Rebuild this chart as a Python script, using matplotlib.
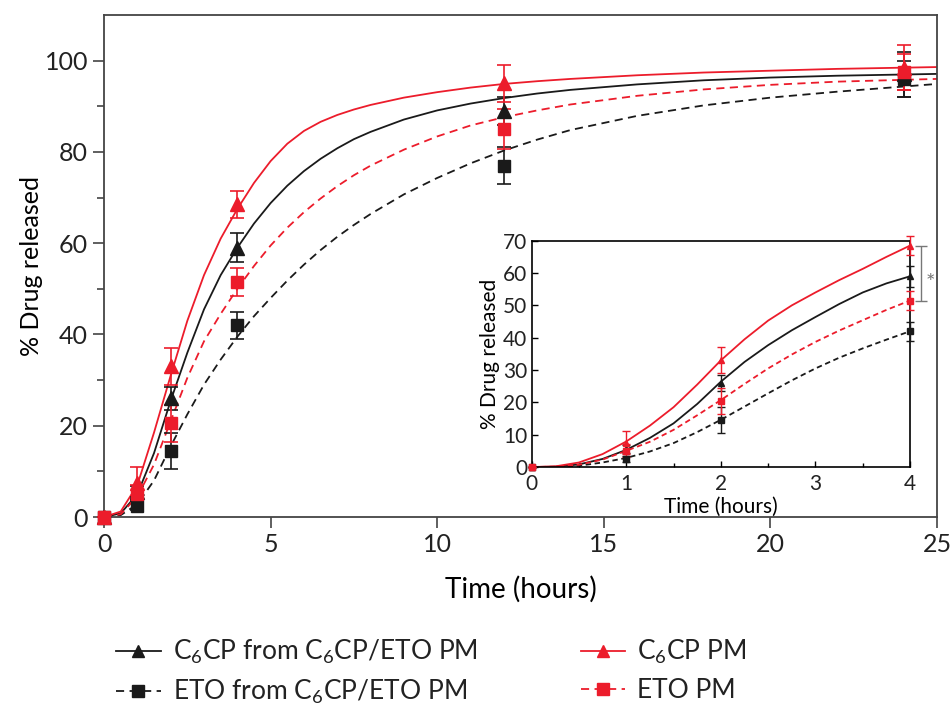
import matplotlib
matplotlib.use('Agg')
import matplotlib.pyplot as plt
from matplotlib.lines import Line2D

plt.rcParams['font.family'] = ['Lato', 'DejaVu Sans']
plt.rcParams['mathtext.fontset'] = 'custom'
plt.rcParams['mathtext.rm'] = 'Lato'
plt.rcParams['text.color'] = '#222222'

RED = '#ec1c2b'
BLK = '#1a1a1a'

# measured points
t_pts = [0, 1, 2, 4, 12, 24]
c6cp_mix = [0, 5.5, 26, 59, 89, 97]
c6cp_mix_err = [0, 1.2, 2.5, 3.2, 3, 5]
eto_mix = [0, 2.5, 14.5, 42, 77, 96]
eto_mix_err = [0, 1, 4, 3, 4, 4]
c6cp_pm = [0, 7.5, 33, 68.5, 95, 98.5]
c6cp_pm_err = [0, 3.5, 4, 3, 4, 5]
eto_pm = [0, 5, 20.5, 51.5, 85, 97.5]
eto_pm_err = [0, 2, 4, 3, 4.3, 4]

# fitted curves
t_fit = [0, 0.5, 1, 1.5, 2, 2.5, 3, 3.5, 4, 4.5, 5, 5.5, 6, 6.5, 7, 7.5, 8,
         9, 10, 11, 12, 13, 14, 16, 18, 20, 22, 25]
fit_c6cp_mix = [0, 0.8, 5, 14, 25.5, 36, 45.5, 53, 59, 64.3, 68.8, 72.6, 75.8, 78.5,
                80.8, 82.8, 84.4, 87.1, 89.1, 90.6, 91.8, 92.8, 93.6, 94.8, 95.7, 96.3, 96.7, 97.1]
fit_eto_mix = [0, 0.4, 2.8, 8, 15.5, 22.5, 29, 34.5, 39.5, 44, 48, 51.8, 55.3, 58.5,
               61.4, 64, 66.4, 70.7, 74.3, 77.5, 80.3, 82.7, 84.8, 87.9, 90.2, 91.9, 93.2, 94.9]
fit_c6cp_pm = [0, 1.2, 7, 18.5, 31, 43, 53, 61, 67.5, 73.2, 78.0, 81.8, 84.6, 86.6,
               88.1, 89.3, 90.3, 91.9, 93.1, 94.1, 94.9, 95.5, 96.0, 96.8, 97.4, 97.8, 98.2, 98.6]
fit_eto_pm = [0, 0.6, 4.5, 11.5, 21, 30.5, 38.5, 44.5, 50, 55, 59.5, 63.4, 66.8, 69.8,
              72.5, 74.9, 77, 80.5, 83.4, 85.8, 87.6, 89.1, 90.4, 92.3, 93.7, 94.7, 95.4, 96]

# fitted curves (first 4 h)
t_in = [0, 0.25, 0.5, 0.75, 1, 1.25, 1.5, 1.75, 2, 2.25, 2.5, 2.75, 3, 3.25, 3.5, 3.75, 4]
in_c6cp_mix = [0, 0.1, 0.8, 2.5, 5.3, 9, 13.5, 19.5, 26.4, 32.5, 37.7, 42.3, 46.4, 50.4, 54, 56.8, 59]
in_eto_mix = [0, 0.05, 0.4, 1.4, 2.8, 4.8, 7.4, 10.8, 14.6, 18.7, 22.8, 26.8, 30.5, 33.8, 36.7, 39.4, 42]
in_c6cp_pm = [0, 0.2, 1.4, 4, 7.9, 12.8, 18.5, 25.5, 33, 39.5, 45.3, 50, 54, 57.8, 61.3, 65, 68.5]
in_eto_pm = [0, 0.1, 0.7, 2.3, 5, 7.8, 11.5, 16, 20.7, 25.7, 30.5, 34.8, 38.7, 42.2, 45.4, 48.6, 51.5]

labels = ['C$\\mathregular{_6}$CP from C$\\mathregular{_6}$CP/ETO PM',
          'ETO from C$\\mathregular{_6}$CP/ETO PM',
          'C$\\mathregular{_6}$CP PM',
          'ETO PM']

DASH = (0, (4.5, 3))

series = [
    (c6cp_mix, c6cp_mix_err, fit_c6cp_mix, in_c6cp_mix, BLK, '^', '-'),
    (eto_mix, eto_mix_err, fit_eto_mix, in_eto_mix, BLK, 's', DASH),
    (eto_pm, eto_pm_err, fit_eto_pm, in_eto_pm, RED, 's', DASH),
    (c6cp_pm, c6cp_pm_err, fit_c6cp_pm, in_c6cp_pm, RED, '^', '-'),
]

fig = plt.figure(figsize=(9.51, 7.09), dpi=100)
ax = fig.add_axes([0.1094, 0.2708, 0.8759, 0.708])

for y, e, fy, iy, c, m, ls in series:
    ax.plot(t_fit, fy, color=c, lw=1.3, ls=ls, zorder=2)
    ax.errorbar(t_pts, y, yerr=e, fmt=m, color=c, ms=10 if m == '^' else 9,
                capsize=5, elinewidth=1.2, capthick=1.2, clip_on=False, zorder=3)

ax.set_xlim(0, 25)
ax.set_ylim(0, 110)
ax.set_xticks([0, 5, 10, 15, 20, 25])
ax.set_yticks([0, 20, 40, 60, 80, 100])
ax.set_yticks([10, 30, 50, 70, 90], minor=True)
ax.tick_params(labelsize=18, length=8, width=1.2, color='#444444', labelcolor='#222222')
ax.tick_params(which='minor', length=5, width=1.2, color='#444444')
ax.set_xlabel('Time (hours)', fontsize=20, labelpad=14)
ax.set_ylabel('% Drug released', fontsize=18, labelpad=1)
for s in ax.spines.values():
    s.set_linewidth(1.3)
    s.set_color('#444444')

# inset
ins = fig.add_axes([0.559, 0.3413, 0.398, 0.3192])
for y, e, fy, iy, c, m, ls in series:
    ins.plot(t_in, iy, color=c, lw=1.3, ls=ls if ls == '-' else (0, (3, 2)), zorder=2)
    ins.errorbar(t_pts[:4], y[:4], yerr=e[:4], fmt=m, color=c, ms=5,
                 capsize=3, elinewidth=1, capthick=1, clip_on=False, zorder=3)
ins.set_xlim(0, 4)
ins.set_ylim(0, 70)
ins.set_xticks([0, 1, 2, 3, 4])
ins.set_xticks([0.5, 1.5, 2.5, 3.5], minor=True)
ins.set_yticks(range(0, 71, 10))
ins.tick_params(labelsize=15, direction='in', length=4, width=1, pad=5, labelcolor='#222222')
ins.tick_params(axis='y', pad=3)
ins.tick_params(which='minor', direction='in', length=3, width=1)
ins.set_xlabel('Time (hours)', fontsize=15, labelpad=2)
ins.set_ylabel('% Drug released', fontsize=15, labelpad=2)
for s in ins.spines.values():
    s.set_linewidth(1.2)

# significance bracket between C6CP PM and ETO PM at 4 h
mid = (c6cp_pm[3] + eto_pm[3]) / 2
ins.errorbar([4.11], [mid], yerr=[(c6cp_pm[3] - eto_pm[3]) / 2],
             fmt='none', ecolor='#777777', capsize=4.5, elinewidth=1, capthick=1, clip_on=False)
ins.text(4.215, mid - 3, '*', color='#777777', fontsize=16,
         ha='center', va='center', clip_on=False)

handles = []
for y, e, fy, iy, c, m, ls in [series[0], series[1], series[3], series[2]]:
    handles.append(Line2D([], [], color=c, marker=m, ls=ls, lw=1.3,
                          ms=9 if m == '^' else 8))
fig.legend(handles, labels, loc='upper left', bbox_to_anchor=(0.122, 0.1),
           ncol=2, frameon=False, fontsize=19, handlelength=1.7, handletextpad=0.45,
           columnspacing=3.9, labelspacing=0.45, borderpad=0, borderaxespad=0)

fig.savefig('out.png', dpi=100)
